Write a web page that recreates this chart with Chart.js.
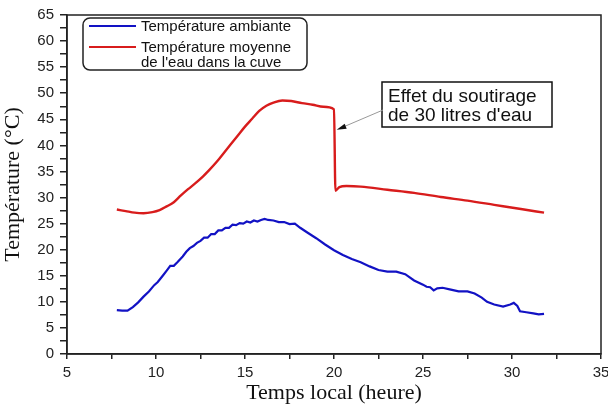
<!DOCTYPE html>
<html>
<head>
<meta charset="utf-8">
<script src="https://cdn.jsdelivr.net/npm/chart.js@4"></script>
<style>
  body { margin: 0; overflow: hidden; background: #fff; }
  #wrap { position: relative; width: 620px; height: 408px; }
</style>
</head>
<body>
<div id="wrap"><canvas id="grafico"></canvas></div>
<script>
// temps local (heure) et températures (°C)
const heuresEau = [7.8, 8.3, 8.8, 9.3, 9.8, 10.2, 10.6, 11.0, 11.4, 11.8, 12.2, 12.6, 13.0, 13.4, 13.8, 14.2, 14.6, 15.0, 15.4, 15.8, 16.2, 16.6, 17.1, 17.6, 18.2, 18.8, 19.4, 20.0, 20.08, 20.3, 20.7, 21.5, 23.0, 24.5, 26.0, 27.5, 29.0, 30.5, 31.8];
const tempEau = [27.7, 27.4, 27.1, 27.0, 27.2, 27.6, 28.3, 29.1, 30.4, 31.6, 32.7, 33.9, 35.3, 36.8, 38.5, 40.2, 41.9, 43.6, 45.1, 46.6, 47.6, 48.2, 48.6, 48.5, 48.1, 47.8, 47.4, 46.9, 31.3, 32.0, 32.2, 32.1, 31.5, 30.9, 30.1, 29.4, 28.6, 27.8, 27.1];

const heuresAmb = [7.8, 8.1, 8.4, 8.7, 9.0, 9.3, 9.6, 9.9, 10.1, 10.4, 10.6, 10.8, 11.0, 11.2, 11.5, 11.7, 11.9, 12.1, 12.3, 12.5, 12.7, 12.9, 13.1, 13.3, 13.5, 13.7, 13.9, 14.1, 14.3, 14.5, 14.7, 14.9, 15.1, 15.3, 15.5, 15.7, 15.9, 16.1, 16.3, 16.6, 16.9, 17.2, 17.5, 17.8, 18.1, 18.5, 19.0, 19.5, 20.0, 20.5, 21.0, 21.5, 22.0, 22.5, 23.0, 23.5, 24.0, 24.5, 25.0, 25.2, 25.4, 25.6, 25.8, 26.1, 26.5, 27.0, 27.5, 27.9, 28.3, 28.6, 29.0, 29.5, 29.9, 30.1, 30.3, 30.45, 30.8, 31.2, 31.5, 31.8];
const tempAmb = [8.4, 8.3, 8.3, 9.0, 9.9, 11.0, 12.0, 13.2, 13.8, 15.1, 16.0, 16.9, 16.9, 17.6, 18.7, 19.6, 20.3, 20.7, 21.3, 21.7, 22.3, 22.3, 23.0, 23.0, 23.7, 23.7, 24.2, 24.2, 24.8, 24.7, 25.1, 25.0, 25.4, 25.2, 25.6, 25.4, 25.7, 25.9, 25.7, 25.6, 25.3, 25.3, 24.9, 25.0, 24.2, 23.3, 22.2, 21.0, 19.9, 19.0, 18.2, 17.6, 16.8, 16.1, 15.8, 15.8, 15.3, 14.1, 13.3, 12.9, 12.8, 12.2, 12.6, 12.7, 12.4, 12.0, 12.0, 11.6, 10.8, 10.0, 9.5, 9.1, 9.5, 9.8, 9.2, 8.2, 8.0, 7.8, 7.6, 7.7];

const ticksX = [5, 10, 15, 20, 25, 30, 35];
const ticksY = [0, 5, 10, 15, 20, 25, 30, 35, 40, 45, 50, 55, 60, 65];

const libelles = ["Température ambiante", ["Température moyenne", "de l'eau dans la cuve"]];
const annotation = ["Effet du soutirage", "de 30 litres d'eau"];

const BLEU = "#1212c4";
const ROUGE = "#d81c1c";

function points(xs, ys) {
  let r = [];
  for (let i = 0; i < xs.length; i++) {
    r.push({ x: xs[i], y: ys[i] });
  }
  return r;
}

// cadre, légende et annotation
const decor = {
  id: "decor",
  afterDraw(chart) {
    const ctx = chart.ctx;
    const a = chart.chartArea;
    const sx = chart.scales.x;
    const sy = chart.scales.y;
    ctx.save();

    // cadre
    ctx.strokeStyle = "#222";
    ctx.lineWidth = 1.5;
    ctx.strokeRect(a.left, a.top, a.right - a.left, a.bottom - a.top);

    // légende
    ctx.lineWidth = 1.5;
    ctx.beginPath();
    ctx.roundRect(83, 18, 224, 52, 7);
    ctx.stroke();

    ctx.font = "15px 'Liberation Sans', Arial, sans-serif";
    ctx.fillStyle = "#111";
    ctx.textBaseline = "middle";
    ctx.lineWidth = 2;

    ctx.strokeStyle = BLEU;
    ctx.beginPath();
    ctx.moveTo(89, 26);
    ctx.lineTo(136, 26);
    ctx.stroke();
    ctx.fillText(libelles[0], 141, 27);

    ctx.strokeStyle = ROUGE;
    ctx.beginPath();
    ctx.moveTo(89, 47);
    ctx.lineTo(136, 47);
    ctx.stroke();
    ctx.fillText(libelles[1][0], 141, 48);
    ctx.fillText(libelles[1][1], 141, 63);

    // annotation
    ctx.strokeStyle = "#111";
    ctx.lineWidth = 1.5;
    ctx.strokeRect(382, 82, 170, 45);
    ctx.font = "19px 'Liberation Sans', Arial, sans-serif";
    ctx.textBaseline = "alphabetic";
    ctx.fillText(annotation[0], 388, 102);
    ctx.fillText(annotation[1], 388, 121);

    // flèche
    const px = sx.getPixelForValue(20.15);
    const py = sy.getPixelForValue(43);
    ctx.strokeStyle = "#999";
    ctx.lineWidth = 1;
    ctx.beginPath();
    ctx.moveTo(383, 110);
    ctx.lineTo(px + 6, py - 2.5);
    ctx.stroke();
    ctx.fillStyle = "#111";
    ctx.beginPath();
    ctx.moveTo(px, py);
    ctx.lineTo(px + 8, py - 6);
    ctx.lineTo(px + 10, py - 1);
    ctx.closePath();
    ctx.fill();

    ctx.restore();
  },
};

new Chart(document.getElementById("grafico"), {
  type: "line",

  data: {
    datasets: [
      {
        label: "Température ambiante",
        data: points(heuresAmb, tempAmb),
        borderColor: BLEU,
        borderWidth: 2.2,
        pointRadius: 0,
        tension: 0,
      },
      {
        label: "Température moyenne de l'eau dans la cuve",
        data: points(heuresEau, tempEau),
        borderColor: ROUGE,
        borderWidth: 2.4,
        pointRadius: 0,
        cubicInterpolationMode: "monotone",
      },
    ],
  },

  plugins: [decor],

  options: {
    responsive: true,
    maintainAspectRatio: false,
    animation: false,

    layout: {
      padding: { top: 13, right: 19, left: 0, bottom: 0 },
    },

    plugins: {
      legend: { display: false },
      tooltip: { enabled: false },
    },

    scales: {
      x: {
        type: "linear",
        min: ticksX[0],
        max: ticksX[ticksX.length - 1],
        afterFit(s) {
          s.height = 54;
        },
        afterBuildTicks(s) {
          let t = [];
          for (let v = ticksX[0]; v <= ticksX[ticksX.length - 1]; v += 2.5) t.push({ value: v });
          s.ticks = t;
        },
        grid: {
          drawOnChartArea: false,
          tickLength: 5,
          color: "#222",
          lineWidth: 1.5,
        },
        border: { color: "#222", width: 1.5 },
        ticks: {
          autoSkip: false,
          maxRotation: 0,
          padding: 5,
          color: "#222",
          font: { family: "'Liberation Sans', Arial", size: 15 },
          callback: (v) => (ticksX.includes(v) ? v : ""),
        },
        title: {
          display: true,
          text: "Temps local (heure)",
          color: "#111",
          font: { family: "'Liberation Serif', 'Times New Roman', serif", size: 22 },
          padding: { top: 0, bottom: 2 },
        },
      },

      y: {
        min: ticksY[0],
        max: ticksY[ticksY.length - 1],
        afterFit(s) {
          s.width = 67;
        },
        afterBuildTicks(s) {
          let t = [];
          for (let v = ticksY[0]; v <= ticksY[ticksY.length - 1]; v += 2.5) t.push({ value: v });
          s.ticks = t;
        },
        grid: {
          drawOnChartArea: false,
          tickLength: 7,
          color: "#222",
          lineWidth: 1.5,
        },
        border: { color: "#222", width: 1.5 },
        ticks: {
          autoSkip: false,
          padding: 6,
          color: "#222",
          font: { family: "'Liberation Sans', Arial", size: 15 },
          callback: (v) => (ticksY.includes(v) ? v : ""),
        },
        title: {
          display: true,
          text: "Température (°C)",
          color: "#111",
          font: { family: "'Liberation Serif', 'Times New Roman', serif", size: 22 },
          padding: { top: 0, bottom: 0 },
        },
      },
    },
  },
});
</script>
</body>
</html>
